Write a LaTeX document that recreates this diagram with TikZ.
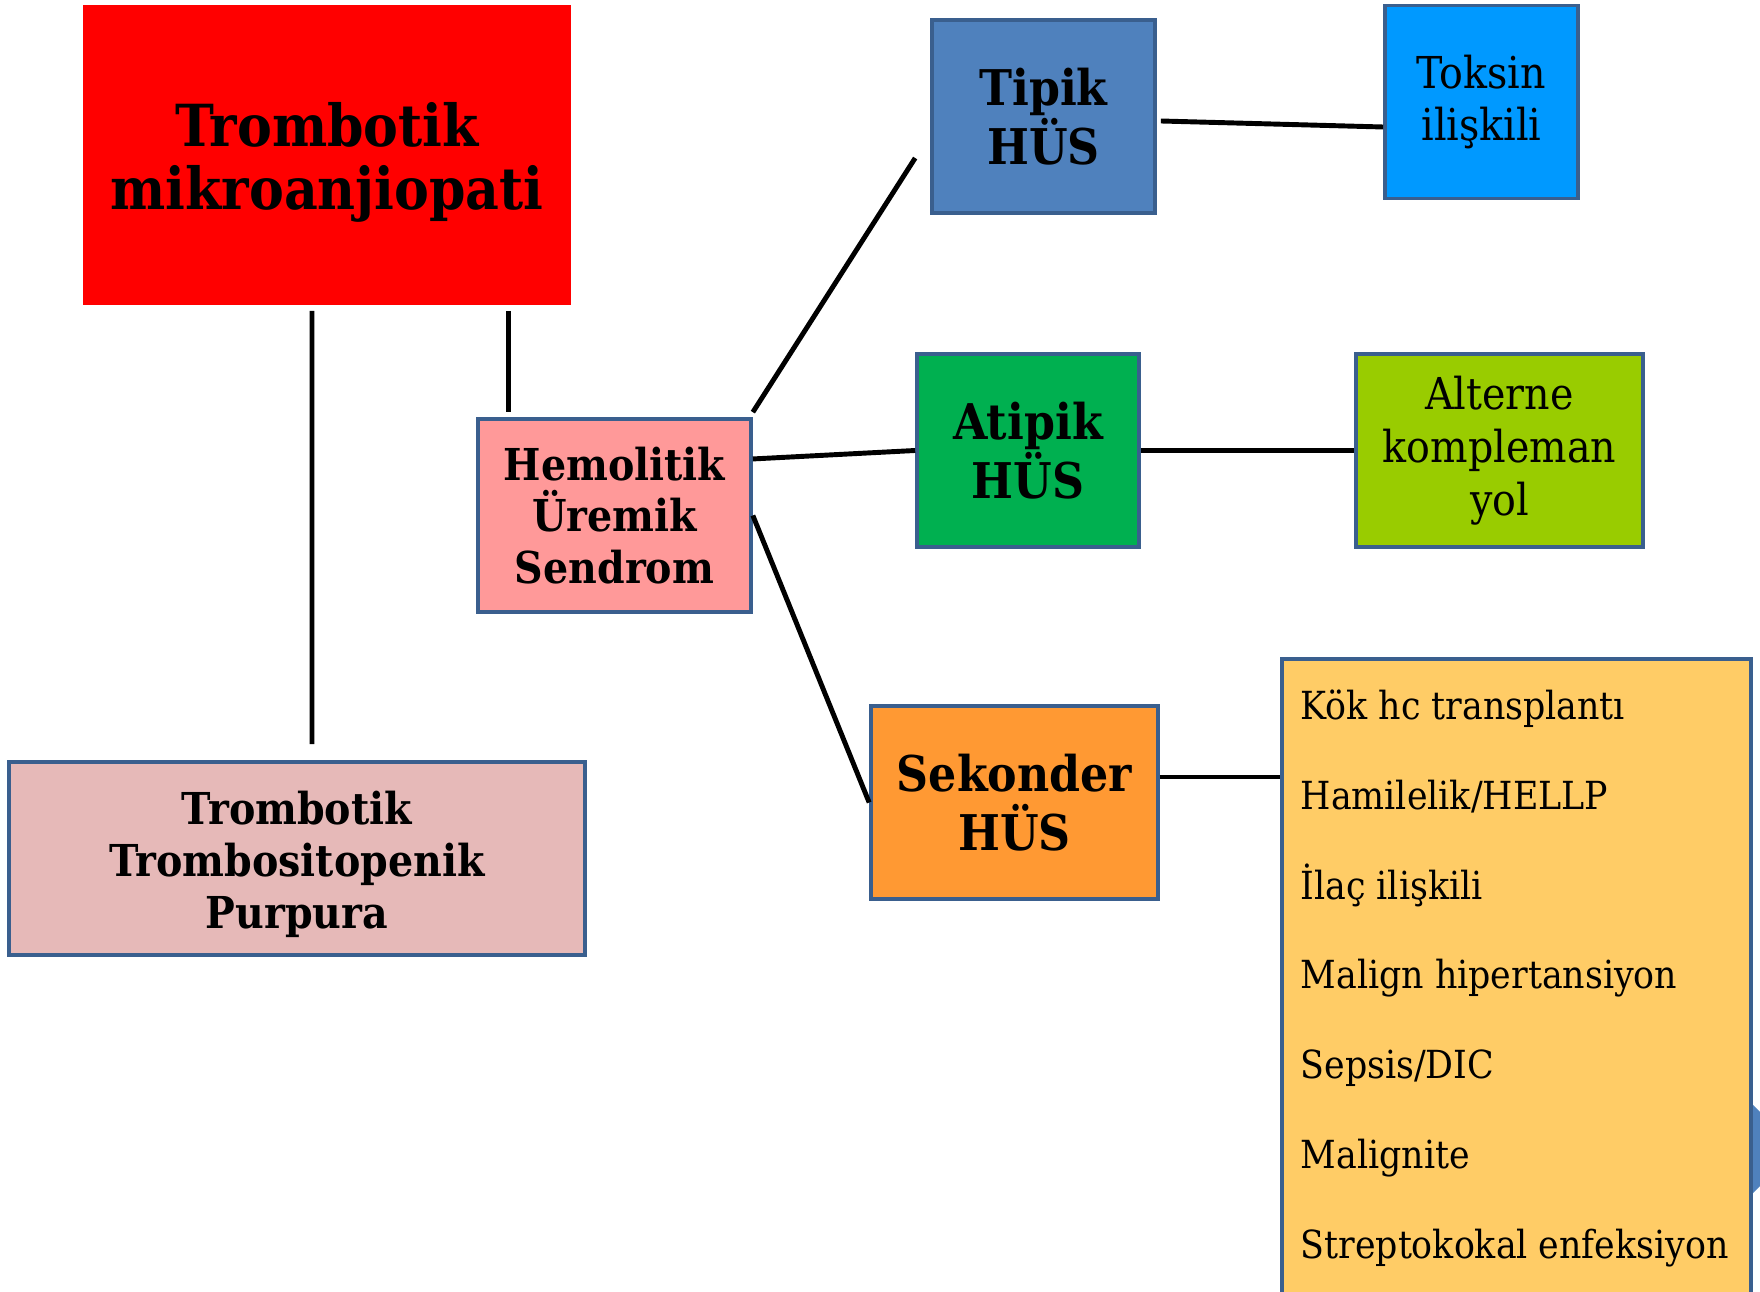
\documentclass[tikz,border=0pt]{standalone}
\usepackage{fontspec}
\setmainfont{DejaVu Serif Condensed}
\usetikzlibrary{positioning,calc}

\definecolor{rand}{HTML}{3A5F8E}
\definecolor{tmarot}{HTML}{FF0000}
\definecolor{ttprosa}{HTML}{E6B9B8}
\definecolor{husrosa}{HTML}{FF9999}
\definecolor{tipikblau}{HTML}{4F81BD}
\definecolor{toksinblau}{HTML}{0099FF}
\definecolor{atipikgruen}{HTML}{00B050}
\definecolor{alternegruen}{HTML}{99CC00}
\definecolor{sekorange}{HTML}{FF9933}
\definecolor{listgelb}{HTML}{FFCC66}

\begin{document}
\begin{tikzpicture}[x=0.01cm,y=-0.01cm,
		kasten/.style={draw=rand, line width=1pt, align=center, inner sep=0pt},
		mittel/.style={font=\bfseries\fontsize{12.5}{14.7}\selectfont},
		gross/.style={font=\bfseries\fontsize{14}{16.6}\selectfont},
		normal/.style={font=\fontsize{12.5}{15}\selectfont},
		linie/.style={line width=1.4pt, black}]
		\useasboundingbox (0,0) rectangle (1760,1292);

		% Kaesten links
		\node[fill=tmarot, minimum width=4.88cm, minimum height=3.0cm, inner sep=0pt] (tma) at (327,155) {};
		\node[align=center, inner sep=0pt, font=\bfseries\fontsize{16.5}{17.9}\selectfont] (tma-text)
			at ([yshift=-0.07cm]tma.center) {Trombotik\\mikroanjiopati};
		\node[kasten, fill=ttprosa, minimum width=5.76cm, minimum height=1.93cm] (ttp) at (297,858.5) {};
		\node[mittel, align=center, inner sep=0pt] (ttp-text) at ([yshift=-0.06cm]ttp.center) {Trombotik\\Trombositopenik\\Purpura};
		\node[kasten, mittel, fill=husrosa, minimum width=2.73cm, minimum height=1.93cm] (hus) at (614.5,515.5) {Hemolitik\\Üremik\\Sendrom};

		% Kaesten Mitte
		\node[kasten, gross, fill=tipikblau, minimum width=2.23cm, minimum height=1.93cm] (tipik) at (1043.5,116.5) {Tipik\\HÜS};
		\node[kasten, gross, fill=atipikgruen, minimum width=2.22cm, minimum height=1.93cm] (atipik) at (1028,450.5) {Atipik\\HÜS};
		\node[kasten, gross, fill=sekorange, minimum width=2.87cm, minimum height=1.93cm] (sekonder) at (1014.5,802.5) {Sekonder\\HÜS};

		% Kaesten rechts
		\node[kasten, normal, fill=toksinblau, minimum width=1.93cm, minimum height=1.93cm] (toksin) at (1481.5,102) {Toksin\\ilişkili};
		\node[kasten, normal, fill=alternegruen, minimum width=2.87cm, minimum height=1.93cm] (alterne) at (1499.5,450.5) {Alterne\\kompleman\\yol};

		% halb verdeckte Form
		\fill[tipikblau] (1745,1097) -- (1760,1112) -- (1760,1186) -- (1745,1201) -- cycle;

		% Liste
		\node[kasten, fill=listgelb, anchor=north west, minimum width=4.69cm, minimum height=6.6cm] (liste) at (1280,657) {};
		\foreach \eintrag [count=\i from 0] in {Kök hc transplantı, Hamilelik/HELLP, İlaç ilişkili, Malign hipertansiyon, Sepsis/DIC, Malignite, Streptokokal enfeksiyon}
			\node[anchor=base west, inner sep=0pt, font=\fontsize{11}{13}\selectfont] (eintrag-\i) at (1300,719.5+89.8*\i) {\eintrag};

		% Linien
		\coordinate (tma-hus) at ([xshift=-0.63cm,yshift=-0.05cm]tma.south east);
		\draw[linie] ([xshift=-0.15cm,yshift=-0.05cm]tma.south) -- ([xshift=0.15cm,yshift=0.16cm]ttp.north);
		\draw[linie] (tma-hus) -- ([yshift=0.05cm]tma-hus |- hus.north);
		\draw[linie] ([yshift=0.05cm]hus.north east) -- ([xshift=-0.15cm,yshift=-0.415cm]tipik.west);
		\draw[linie] ([yshift=0.565cm]hus.east) -- (atipik.west);
		\draw[linie] (hus.east) -- (sekonder.west);
		\draw[linie] ([xshift=0.04cm,yshift=-0.045cm]tipik.east) -- ([yshift=-0.25cm]toksin.west);
		\draw[linie] (atipik.east) -- (alterne.west);
		\draw[linie] ([yshift=0.255cm]sekonder.east) -- ([yshift=0.255cm]sekonder.east -| liste.west);
	\end{tikzpicture}
\end{document}
